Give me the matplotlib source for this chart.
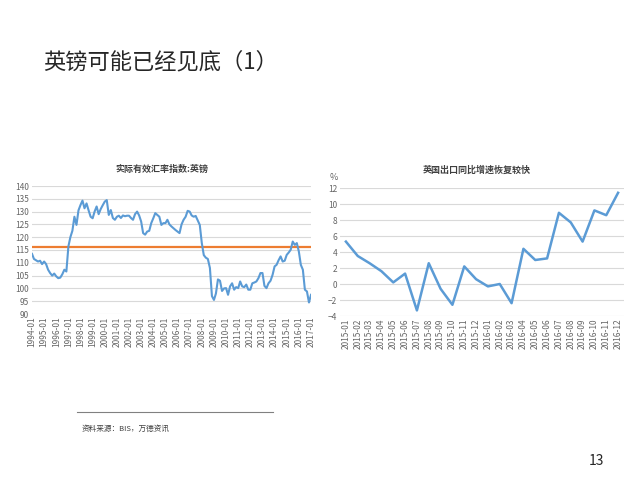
import matplotlib
matplotlib.use('Agg')
import matplotlib.pyplot as plt
import matplotlib.dates as mdates
import pandas as pd

plt.rcParams['font.family'] = ['Noto Sans CJK SC', 'DejaVu Sans']

# Real effective exchange rate index, GBP (read every two months, Jan/Mar/May/Jul/Sep/Nov)
reer_values = [
    113.5, 111.5, 111.0, 110.5, 110.8, 109.5,   # 1994
    110.5, 109.5, 107.3, 106.0, 105.0, 105.8,   # 1995
    104.7, 104.0, 104.2, 105.5, 107.3, 106.6,   # 1996
    116.4, 120.0, 122.5, 128.0, 124.8, 130.5,   # 1997
    132.6, 134.3, 131.3, 133.2, 130.5, 128.0,   # 1998
    127.4, 130.0, 132.0, 129.0, 131.0, 132.5,   # 1999
    133.9, 134.5, 128.7, 130.6, 127.5, 126.8,   # 2000
    128.0, 128.4, 127.5, 128.5, 128.2, 128.4,   # 2001
    128.4, 127.5, 126.8, 129.0, 130.0, 128.5,   # 2002
    126.1, 121.6, 121.0, 122.2, 122.5, 125.5,   # 2003
    127.4, 129.4, 128.7, 128.0, 124.8, 125.5,   # 2004
    125.5, 126.8, 125.0, 124.2, 123.5, 122.8,   # 2005
    122.2, 121.6, 125.0, 126.8, 128.0, 130.3,   # 2006
    130.0, 128.5, 128.0, 128.3, 126.5, 124.8,   # 2007
    117.7, 113.0, 112.0, 111.5, 108.0, 97.0,    # 2008
    95.5, 98.0, 103.5, 103.0, 99.0, 100.0,      # 2009
    100.1, 97.5, 100.8, 102.0, 99.5, 100.5,     # 2010
    100.1, 102.7, 100.8, 100.5, 101.5, 99.5,    # 2011
    99.5, 102.0, 102.3, 102.7, 104.0, 106.0,    # 2012
    106.0, 101.0, 100.1, 102.0, 103.0, 105.3,   # 2013
    108.6, 109.2, 111.0, 112.5, 110.5, 110.8,   # 2014
    113.1, 114.0, 115.1, 118.3, 117.0, 117.7,   # 2015
    114.4, 109.2, 107.3, 99.5, 98.8, 94.5,      # 2016
    97.5,                                       # 2017
]
reer_avg = 116.2

# UK exports, yoy growth (%)
export_months = ['2015-01', '2015-02', '2015-03', '2015-04', '2015-05', '2015-06',
                 '2015-07', '2015-08', '2015-09', '2015-10', '2015-11', '2015-12',
                 '2016-01', '2016-02', '2016-03', '2016-04', '2016-05', '2016-06',
                 '2016-07', '2016-08', '2016-09', '2016-10', '2016-11', '2016-12']
export_yoy = [5.3, 3.5, 2.6, 1.6, 0.2, 1.3, -3.3, 2.6, -0.6, -2.6, 2.2, 0.6,
              -0.3, 0.0, -2.4, 4.4, 3.0, 3.2, 8.9, 7.7, 5.3, 9.2, 8.6, 11.4]

BLUE = '#5B9BD5'
ORANGE = '#ED7D31'
GRID = '#D9D9D9'
TICK = '#666666'

W, H = 640, 495
fig = plt.figure(figsize=(6.4, 4.95), dpi=100)


def px_axes(x0, y0, x1, y1):
    # pixel box (top-left origin) -> figure axes
    return fig.add_axes([x0 / W, 1 - y1 / H, (x1 - x0) / W, (y1 - y0) / H])


def style(ax):
    for s in ax.spines.values():
        s.set_visible(False)
    ax.grid(axis='y', color=GRID, linewidth=0.8)
    ax.set_axisbelow(True)
    ax.tick_params(length=0, labelsize=6, colors=TICK, pad=2)


fig.text(43 / W, 1 - 62 / H, '英镑可能已经见底（1）', fontsize=16, color='#262626',
         va='center', ha='left')

# left chart
ax1 = px_axes(32, 186, 311, 314)
style(ax1)
dates = pd.date_range('1994-01-01', periods=len(reer_values), freq='2MS')
ax1.plot(dates, reer_values, color=BLUE, linewidth=1.5, zorder=3)
ax1.axhline(reer_avg, color=ORANGE, linewidth=1.6, zorder=2)
ax1.set_ylim(90, 140)
ax1.set_yticks(range(90, 141, 5))
ax1.set_xlim(pd.Timestamp('1994-01-01'), pd.Timestamp('2017-01-01'))
ax1.xaxis.set_major_locator(mdates.YearLocator(1, month=1, day=1))
ax1.xaxis.set_major_formatter(mdates.DateFormatter('%Y-%m'))
plt.setp(ax1.get_xticklabels(), rotation=90)
fig.text(162 / W, 1 - 169 / H, '实际有效汇率指数:英镑', fontsize=6.5, fontweight='bold',
         color='#404040', ha='center', va='center')

# right chart
ax2 = px_axes(340, 188, 624, 316)
style(ax2)
xs = range(len(export_months))
ax2.plot(xs, export_yoy, color=BLUE, linewidth=1.8)
ax2.set_ylim(-4, 12)
ax2.set_yticks(range(-4, 13, 2))
ax2.set_xlim(-0.5, len(export_months) - 0.5)
ax2.set_xticks(list(xs))
ax2.set_xticklabels(export_months, rotation=90)
fig.text(477 / W, 1 - 170 / H, '英国出口同比增速恢复较快', fontsize=6.5, fontweight='bold',
         color='#404040', ha='center', va='center')
fig.text(334 / W, 1 - 178 / H, '%', fontsize=6.5, color=TICK, ha='center', va='center')

# source note
fig.add_artist(plt.Line2D([77 / W, 273 / W], [1 - 412 / H, 1 - 412 / H],
                          color='#808080', linewidth=0.8))
fig.text(82 / W, 1 - 429 / H, '资料来源：BIS，万德资讯', fontsize=5.5, color='#404040',
         ha='left', va='center')

fig.text(596 / W, 1 - 461 / H, '13', fontsize=10, color='#262626', ha='center', va='center')

fig.savefig('out.png', dpi=100)
